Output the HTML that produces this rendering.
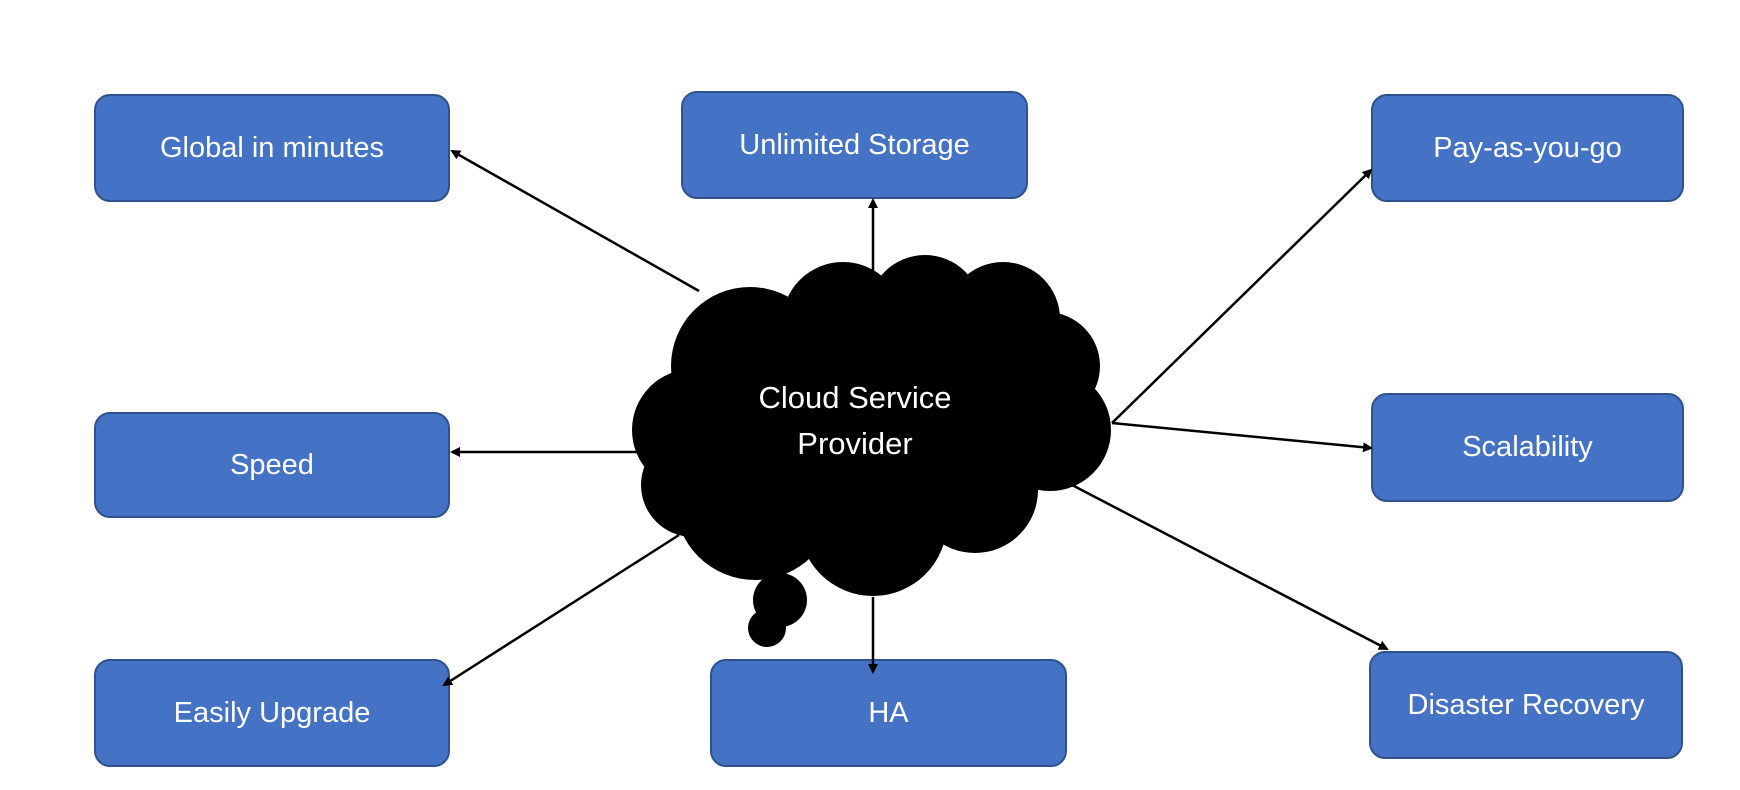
<!DOCTYPE html>
<html><head><meta charset="utf-8"><style>
html,body{margin:0;padding:0;background:#fff;}
body{width:1740px;height:790px;position:relative;overflow:hidden;font-family:"Liberation Sans",sans-serif;}
.b{position:absolute;background:#4472C4;border:2px solid #2F528F;border-radius:16px;box-sizing:border-box;color:#fff;font-size:29px;display:flex;align-items:center;justify-content:center;}
</style></head><body>
<div class="b" style="left:94px;top:94px;width:356px;height:108px">Global in minutes</div>
<div class="b" style="left:681px;top:91px;width:347px;height:108px">Unlimited Storage</div>
<div class="b" style="left:1371px;top:94px;width:313px;height:108px">Pay-as-you-go</div>
<div class="b" style="left:94px;top:412px;width:356px;height:106px">Speed</div>
<div class="b" style="left:1371px;top:393px;width:313px;height:109px">Scalability</div>
<div class="b" style="left:94px;top:659px;width:356px;height:108px">Easily Upgrade</div>
<div class="b" style="left:710px;top:659px;width:357px;height:108px">HA</div>
<div class="b" style="left:1369px;top:651px;width:314px;height:108px">Disaster Recovery</div>
<svg width="1740" height="790" style="position:absolute;left:0;top:0">
<defs><marker id="a" markerWidth="10" markerHeight="10" refX="8" refY="5" orient="auto" markerUnits="userSpaceOnUse"><path d="M0,0 L10,5 L0,10 z" fill="#000"/></marker></defs>
<g stroke="#000" stroke-width="2.5" marker-end="url(#a)">
<line x1="699" y1="291" x2="452" y2="151"/>
<line x1="873" y1="272" x2="873" y2="200"/>
<line x1="1112" y1="423" x2="1371" y2="170"/>
<line x1="1112" y1="423" x2="1371" y2="448"/>
<line x1="1072" y1="485" x2="1387" y2="649"/>
<line x1="873" y1="597" x2="873" y2="672"/>
<line x1="679" y1="535" x2="444" y2="685"/>
<line x1="655" y1="452" x2="452" y2="452"/>
</g>
<g fill="#000">
<circle cx="750" cy="366" r="79"/><circle cx="843" cy="323" r="61"/><circle cx="925" cy="312" r="57"/>
<circle cx="1003" cy="319" r="57"/><circle cx="1046" cy="366" r="54"/><circle cx="1050" cy="430" r="61"/>
<circle cx="975" cy="490" r="63"/><circle cx="873" cy="522" r="74"/><circle cx="755" cy="500" r="80"/>
<circle cx="693" cy="430" r="61"/><circle cx="693" cy="485" r="52"/>
<ellipse cx="880" cy="420" rx="170" ry="115"/>
<circle cx="780" cy="600" r="27"/><circle cx="767" cy="628" r="19"/>
</g>
<text x="855" y="408" fill="#fff" font-size="31" text-anchor="middle" font-family="Liberation Sans, sans-serif">Cloud Service</text>
<text x="855" y="454" fill="#fff" font-size="31" text-anchor="middle" font-family="Liberation Sans, sans-serif">Provider</text>
</svg>
</body></html>
